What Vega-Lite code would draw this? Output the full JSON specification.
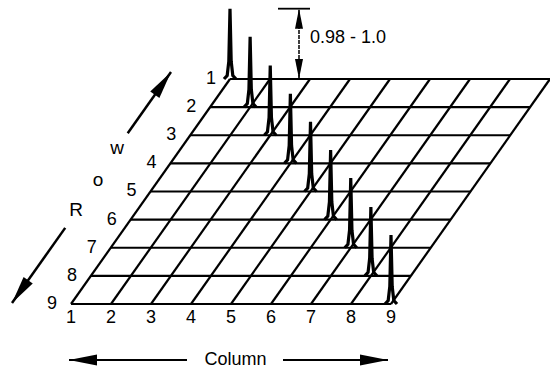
{
  "$schema": "https://vega.github.io/schema/vega-lite/v6.json",
  "width": 550,
  "height": 370,
  "autosize": {"type": "none"},
  "padding": 0,
  "background": "white",
  "config": {"view": {"stroke": null}, "text": {"font": "Liberation Sans", "color": "black"}},
  "datasets": {
    "rows": [{"row": 1}, {"row": 2}, {"row": 3}, {"row": 4}, {"row": 5}, {"row": 6}, {"row": 7}, {"row": 8}, {"row": 9}],
    "cols": [{"col": 1}, {"col": 2}, {"col": 3}, {"col": 4}, {"col": 5}, {"col": 6}, {"col": 7}, {"col": 8}, {"col": 9}],
    "peaks": [
      {"peak": 1, "offset": -0.15, "value": 0}, {"peak": 1, "offset": -0.07, "value": 0.05}, {"peak": 1, "offset": -0.03, "value": 0.25}, {"peak": 1, "offset": 0, "value": 1.0}, {"peak": 1, "offset": 0.03, "value": 0.25}, {"peak": 1, "offset": 0.07, "value": 0.05}, {"peak": 1, "offset": 0.15, "value": 0},
      {"peak": 2, "offset": -0.15, "value": 0}, {"peak": 2, "offset": -0.07, "value": 0.05}, {"peak": 2, "offset": -0.03, "value": 0.25}, {"peak": 2, "offset": 0, "value": 1.0}, {"peak": 2, "offset": 0.03, "value": 0.25}, {"peak": 2, "offset": 0.07, "value": 0.05}, {"peak": 2, "offset": 0.15, "value": 0},
      {"peak": 3, "offset": -0.15, "value": 0}, {"peak": 3, "offset": -0.07, "value": 0.05}, {"peak": 3, "offset": -0.03, "value": 0.25}, {"peak": 3, "offset": 0, "value": 0.99}, {"peak": 3, "offset": 0.03, "value": 0.25}, {"peak": 3, "offset": 0.07, "value": 0.05}, {"peak": 3, "offset": 0.15, "value": 0},
      {"peak": 4, "offset": -0.15, "value": 0}, {"peak": 4, "offset": -0.07, "value": 0.05}, {"peak": 4, "offset": -0.03, "value": 0.25}, {"peak": 4, "offset": 0, "value": 0.99}, {"peak": 4, "offset": 0.03, "value": 0.25}, {"peak": 4, "offset": 0.07, "value": 0.05}, {"peak": 4, "offset": 0.15, "value": 0},
      {"peak": 5, "offset": -0.15, "value": 0}, {"peak": 5, "offset": -0.07, "value": 0.05}, {"peak": 5, "offset": -0.03, "value": 0.25}, {"peak": 5, "offset": 0, "value": 0.99}, {"peak": 5, "offset": 0.03, "value": 0.25}, {"peak": 5, "offset": 0.07, "value": 0.05}, {"peak": 5, "offset": 0.15, "value": 0},
      {"peak": 6, "offset": -0.15, "value": 0}, {"peak": 6, "offset": -0.07, "value": 0.05}, {"peak": 6, "offset": -0.03, "value": 0.25}, {"peak": 6, "offset": 0, "value": 0.99}, {"peak": 6, "offset": 0.03, "value": 0.25}, {"peak": 6, "offset": 0.07, "value": 0.05}, {"peak": 6, "offset": 0.15, "value": 0},
      {"peak": 7, "offset": -0.15, "value": 0}, {"peak": 7, "offset": -0.07, "value": 0.05}, {"peak": 7, "offset": -0.03, "value": 0.25}, {"peak": 7, "offset": 0, "value": 0.99}, {"peak": 7, "offset": 0.03, "value": 0.25}, {"peak": 7, "offset": 0.07, "value": 0.05}, {"peak": 7, "offset": 0.15, "value": 0},
      {"peak": 8, "offset": -0.15, "value": 0}, {"peak": 8, "offset": -0.07, "value": 0.05}, {"peak": 8, "offset": -0.03, "value": 0.25}, {"peak": 8, "offset": 0, "value": 0.98}, {"peak": 8, "offset": 0.03, "value": 0.25}, {"peak": 8, "offset": 0.07, "value": 0.05}, {"peak": 8, "offset": 0.15, "value": 0},
      {"peak": 9, "offset": -0.15, "value": 0}, {"peak": 9, "offset": -0.07, "value": 0.05}, {"peak": 9, "offset": -0.03, "value": 0.25}, {"peak": 9, "offset": 0, "value": 0.98}, {"peak": 9, "offset": 0.03, "value": 0.25}, {"peak": 9, "offset": 0.07, "value": 0.05}, {"peak": 9, "offset": 0.15, "value": 0}
    ]
  },
  "layer": [
    {
      "data": {"name": "rows"},
      "transform": [
        {"calculate": "0.496875*(9-datum.row)", "as": "x"},
        {"calculate": "datum.x+8", "as": "x2"},
        {"calculate": "9-datum.row", "as": "y"}
      ],
      "mark": {"type": "rule", "color": "black", "strokeWidth": 2.2},
      "encoding": {
        "x": {"field": "x", "type": "quantitative", "scale": {"domain": [-1.775, 11.975], "nice": false, "zero": false}, "axis": null},
        "x2": {"field": "x2"},
        "y": {"field": "y", "type": "quantitative", "scale": {"domain": [-2.3467, 10.8089], "nice": false, "zero": false}, "axis": null}
      }
    },
    {
      "data": {"name": "cols"},
      "transform": [
        {"calculate": "datum.col-1", "as": "x"},
        {"calculate": "datum.col-1+8*0.496875", "as": "x2"}
      ],
      "mark": {"type": "rule", "color": "black", "strokeWidth": 2.2},
      "encoding": {
        "x": {"field": "x", "type": "quantitative", "scale": {"domain": [-1.775, 11.975], "nice": false, "zero": false}, "axis": null},
        "x2": {"field": "x2"},
        "y": {"datum": 0, "type": "quantitative", "scale": {"domain": [-2.3467, 10.8089], "nice": false, "zero": false}, "axis": null},
        "y2": {"datum": 8}
      }
    },
    {
      "data": {"name": "peaks"},
      "transform": [
        {"calculate": "datum.peak-1+0.496875*(9-datum.peak)+datum.offset", "as": "x"},
        {"calculate": "9-datum.peak+2.5*datum.value", "as": "y"}
      ],
      "mark": {"type": "line", "color": "black", "strokeWidth": 3.2},
      "encoding": {
        "x": {"field": "x", "type": "quantitative", "scale": {"domain": [-1.775, 11.975], "nice": false, "zero": false}, "axis": null},
        "y": {"field": "y", "type": "quantitative", "scale": {"domain": [-2.3467, 10.8089], "nice": false, "zero": false}, "axis": null},
        "detail": {"field": "peak", "type": "nominal"},
        "order": {"field": "offset", "type": "quantitative"}
      }
    },
    {
      "data": {"name": "rows"},
      "transform": [
        {"calculate": "0.496875*(9-datum.row)", "as": "x"},
        {"calculate": "9-datum.row", "as": "y"}
      ],
      "mark": {"type": "text", "dx": -19, "fontSize": 18, "align": "center", "baseline": "middle"},
      "encoding": {
        "x": {"field": "x", "type": "quantitative", "scale": {"domain": [-1.775, 11.975], "nice": false, "zero": false}, "axis": null},
        "y": {"field": "y", "type": "quantitative", "scale": {"domain": [-2.3467, 10.8089], "nice": false, "zero": false}, "axis": null},
        "text": {"field": "row", "type": "nominal"}
      }
    },
    {
      "data": {"name": "cols"},
      "transform": [{"calculate": "datum.col-1", "as": "x"}],
      "mark": {"type": "text", "dy": 14, "fontSize": 18, "align": "center", "baseline": "middle"},
      "encoding": {
        "x": {"field": "x", "type": "quantitative", "scale": {"domain": [-1.775, 11.975], "nice": false, "zero": false}, "axis": null},
        "y": {"datum": 0, "type": "quantitative", "scale": {"domain": [-2.3467, 10.8089], "nice": false, "zero": false}, "axis": null},
        "text": {"field": "col", "type": "nominal"}
      }
    },
    {
      "data": {"values": [{}]},
      "mark": {"type": "rule", "color": "black", "strokeWidth": 1.8},
      "encoding": {
        "x": {"datum": 5.175, "type": "quantitative", "scale": {"domain": [-1.775, 11.975], "nice": false, "zero": false}, "axis": null},
        "x2": {"datum": 5.975},
        "y": {"datum": 10.5, "type": "quantitative", "scale": {"domain": [-2.3467, 10.8089], "nice": false, "zero": false}, "axis": null}
      }
    },
    {
      "data": {"values": [{}]},
      "mark": {"type": "rule", "color": "black", "strokeWidth": 1.5, "strokeDash": [4, 1]},
      "encoding": {
        "x": {"datum": 5.7, "type": "quantitative", "scale": {"domain": [-1.775, 11.975], "nice": false, "zero": false}, "axis": null},
        "y": {"datum": 8, "type": "quantitative", "scale": {"domain": [-2.3467, 10.8089], "nice": false, "zero": false}, "axis": null},
        "y2": {"datum": 10.5}
      }
    },
    {
      "data": {"values": [{}]},
      "mark": {"type": "point", "shape": "M0,0L0.4,2L-0.4,2Z", "size": 400, "filled": true, "opacity": 1, "color": "black", "angle": 0},
      "encoding": {
        "x": {"datum": 5.7, "type": "quantitative", "scale": {"domain": [-1.775, 11.975], "nice": false, "zero": false}, "axis": null},
        "y": {"datum": 10.5, "type": "quantitative", "scale": {"domain": [-2.3467, 10.8089], "nice": false, "zero": false}, "axis": null}
      }
    },
    {
      "data": {"values": [{}]},
      "mark": {"type": "point", "shape": "M0,0L0.4,2L-0.4,2Z", "size": 400, "filled": true, "opacity": 1, "color": "black", "angle": 180},
      "encoding": {
        "x": {"datum": 5.7, "type": "quantitative", "scale": {"domain": [-1.775, 11.975], "nice": false, "zero": false}, "axis": null},
        "y": {"datum": 8, "type": "quantitative", "scale": {"domain": [-2.3467, 10.8089], "nice": false, "zero": false}, "axis": null}
      }
    },
    {
      "data": {"values": [{}]},
      "mark": {"type": "text", "fontSize": 18, "align": "left", "baseline": "middle", "text": "0.98 - 1.0"},
      "encoding": {
        "x": {"datum": 5.975, "type": "quantitative", "scale": {"domain": [-1.775, 11.975], "nice": false, "zero": false}, "axis": null},
        "y": {"datum": 9.46, "type": "quantitative", "scale": {"domain": [-2.3467, 10.8089], "nice": false, "zero": false}, "axis": null}
      }
    },
    {
      "data": {"values": [{}]},
      "mark": {"type": "rule", "color": "black", "strokeWidth": 2.5},
      "encoding": {
        "x": {"datum": 1.4175, "type": "quantitative", "scale": {"domain": [-1.775, 11.975], "nice": false, "zero": false}, "axis": null},
        "x2": {"datum": 2.5},
        "y": {"datum": 6.073, "type": "quantitative", "scale": {"domain": [-2.3467, 10.8089], "nice": false, "zero": false}, "axis": null},
        "y2": {"datum": 8.249}
      }
    },
    {
      "data": {"values": [{}]},
      "mark": {"type": "point", "shape": "M0,0L0.4,2L-0.4,2Z", "size": 784, "filled": true, "opacity": 1, "color": "black", "angle": 35.3},
      "encoding": {
        "x": {"datum": 2.5, "type": "quantitative", "scale": {"domain": [-1.775, 11.975], "nice": false, "zero": false}, "axis": null},
        "y": {"datum": 8.249, "type": "quantitative", "scale": {"domain": [-2.3467, 10.8089], "nice": false, "zero": false}, "axis": null}
      }
    },
    {
      "data": {"values": [{}]},
      "mark": {"type": "rule", "color": "black", "strokeWidth": 2.5},
      "encoding": {
        "x": {"datum": -0.145, "type": "quantitative", "scale": {"domain": [-1.775, 11.975], "nice": false, "zero": false}, "axis": null},
        "x2": {"datum": -1.475},
        "y": {"datum": 2.706, "type": "quantitative", "scale": {"domain": [-2.3467, 10.8089], "nice": false, "zero": false}, "axis": null},
        "y2": {"datum": 0.0356}
      }
    },
    {
      "data": {"values": [{}]},
      "mark": {"type": "point", "shape": "M0,0L0.4,2L-0.4,2Z", "size": 784, "filled": true, "opacity": 1, "color": "black", "angle": 215.3},
      "encoding": {
        "x": {"datum": -1.475, "type": "quantitative", "scale": {"domain": [-1.775, 11.975], "nice": false, "zero": false}, "axis": null},
        "y": {"datum": 0.0356, "type": "quantitative", "scale": {"domain": [-2.3467, 10.8089], "nice": false, "zero": false}, "axis": null}
      }
    },
    {
      "data": {"values": [{}]},
      "mark": {"type": "text", "fontSize": 19, "align": "center", "baseline": "middle", "text": "R"},
      "encoding": {
        "x": {"datum": 0.125, "type": "quantitative", "scale": {"domain": [-1.775, 11.975], "nice": false, "zero": false}, "axis": null},
        "y": {"datum": 3.342, "type": "quantitative", "scale": {"domain": [-2.3467, 10.8089], "nice": false, "zero": false}, "axis": null}
      }
    },
    {
      "data": {"values": [{}]},
      "mark": {"type": "text", "fontSize": 19, "align": "center", "baseline": "middle", "text": "o"},
      "encoding": {
        "x": {"datum": 0.675, "type": "quantitative", "scale": {"domain": [-1.775, 11.975], "nice": false, "zero": false}, "axis": null},
        "y": {"datum": 4.409, "type": "quantitative", "scale": {"domain": [-2.3467, 10.8089], "nice": false, "zero": false}, "axis": null}
      }
    },
    {
      "data": {"values": [{}]},
      "mark": {"type": "text", "fontSize": 19, "align": "center", "baseline": "middle", "text": "w"},
      "encoding": {
        "x": {"datum": 1.15, "type": "quantitative", "scale": {"domain": [-1.775, 11.975], "nice": false, "zero": false}, "axis": null},
        "y": {"datum": 5.547, "type": "quantitative", "scale": {"domain": [-2.3467, 10.8089], "nice": false, "zero": false}, "axis": null}
      }
    },
    {
      "data": {"values": [{}]},
      "mark": {"type": "rule", "color": "black", "strokeWidth": 2},
      "encoding": {
        "x": {"datum": -0.05, "type": "quantitative", "scale": {"domain": [-1.775, 11.975], "nice": false, "zero": false}, "axis": null},
        "x2": {"datum": 2.9},
        "y": {"datum": -1.991, "type": "quantitative", "scale": {"domain": [-2.3467, 10.8089], "nice": false, "zero": false}, "axis": null}
      }
    },
    {
      "data": {"values": [{}]},
      "mark": {"type": "rule", "color": "black", "strokeWidth": 2},
      "encoding": {
        "x": {"datum": 5.3, "type": "quantitative", "scale": {"domain": [-1.775, 11.975], "nice": false, "zero": false}, "axis": null},
        "x2": {"datum": 7.925},
        "y": {"datum": -1.991, "type": "quantitative", "scale": {"domain": [-2.3467, 10.8089], "nice": false, "zero": false}, "axis": null}
      }
    },
    {
      "data": {"values": [{}]},
      "mark": {"type": "point", "shape": "M0,0L0.4,2L-0.4,2Z", "size": 784, "filled": true, "opacity": 1, "color": "black", "angle": 270},
      "encoding": {
        "x": {"datum": -0.05, "type": "quantitative", "scale": {"domain": [-1.775, 11.975], "nice": false, "zero": false}, "axis": null},
        "y": {"datum": -1.991, "type": "quantitative", "scale": {"domain": [-2.3467, 10.8089], "nice": false, "zero": false}, "axis": null}
      }
    },
    {
      "data": {"values": [{}]},
      "mark": {"type": "point", "shape": "M0,0L0.4,2L-0.4,2Z", "size": 784, "filled": true, "opacity": 1, "color": "black", "angle": 90},
      "encoding": {
        "x": {"datum": 7.925, "type": "quantitative", "scale": {"domain": [-1.775, 11.975], "nice": false, "zero": false}, "axis": null},
        "y": {"datum": -1.991, "type": "quantitative", "scale": {"domain": [-2.3467, 10.8089], "nice": false, "zero": false}, "axis": null}
      }
    },
    {
      "data": {"values": [{}]},
      "mark": {"type": "text", "fontSize": 18, "align": "center", "baseline": "middle", "text": "Column"},
      "encoding": {
        "x": {"datum": 4.1125, "type": "quantitative", "scale": {"domain": [-1.775, 11.975], "nice": false, "zero": false}, "axis": null},
        "y": {"datum": -1.991, "type": "quantitative", "scale": {"domain": [-2.3467, 10.8089], "nice": false, "zero": false}, "axis": null}
      }
    }
  ]
}
